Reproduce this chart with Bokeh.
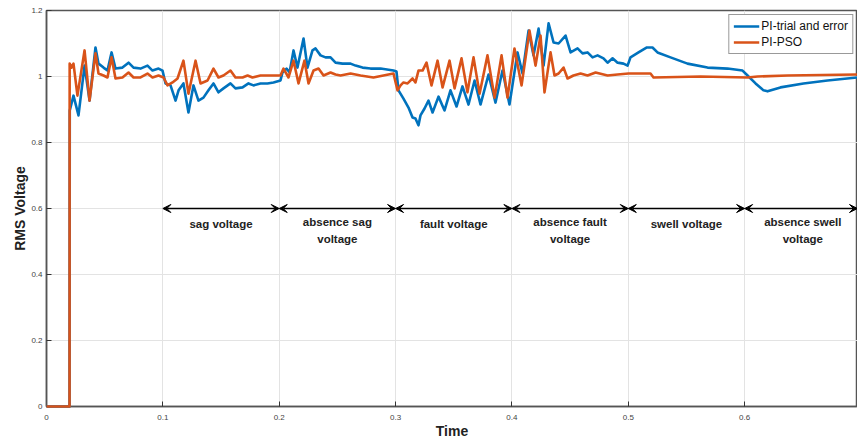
from bokeh.plotting import figure
from bokeh.models import (ColumnDataSource, Range1d, FixedTicker, Arrow, VeeHead,
                          Legend, LegendItem)
from bokeh.core.properties import value
from bokeh.embed import file_html
from bokeh.resources import INLINE

# ---------------- data ----------------
t_pi_trial = [0.0, 0.0198, 0.0200, 0.0232, 0.0275, 0.0327, 0.0370, 0.0421, 0.0447, 0.0490,
              0.0524, 0.0559, 0.0593, 0.0653, 0.0705, 0.0748, 0.0808, 0.0868, 0.0911, 0.0963,
              0.0997, 0.1023, 0.1066, 0.1109, 0.1135, 0.1177, 0.1220, 0.1263, 0.1306, 0.1349,
              0.1392, 0.1435, 0.1478, 0.1521, 0.1581, 0.1624, 0.1685, 0.1736, 0.1779, 0.1839,
              0.1899, 0.1951, 0.2011, 0.2028, 0.2063, 0.2089, 0.2123, 0.2157, 0.2209, 0.2243,
              0.2286, 0.2312, 0.2355, 0.2398, 0.2441, 0.2484, 0.2544, 0.2613, 0.2656, 0.2716,
              0.2785, 0.2871, 0.2982, 0.3008, 0.3025, 0.3068, 0.3111, 0.3146, 0.3171, 0.3197,
              0.3214, 0.3249, 0.3283, 0.3318, 0.3369, 0.3421, 0.3472, 0.3524, 0.3575, 0.3627,
              0.3679, 0.3730, 0.3799, 0.3859, 0.3919, 0.3979, 0.4048, 0.4091, 0.4143, 0.4186,
              0.4229, 0.4272, 0.4315, 0.4358, 0.4401, 0.4461, 0.4504, 0.4564, 0.4607, 0.4650,
              0.4693, 0.4736, 0.4787, 0.4822, 0.4865, 0.4908, 0.4959, 0.4994, 0.5019, 0.5088,
              0.5160, 0.5208, 0.5251, 0.5363, 0.5509, 0.5681, 0.5853, 0.5982, 0.6025, 0.6094,
              0.6162, 0.6197, 0.6308, 0.6506, 0.6712, 0.6970]
v_pi_trial = [0.0, 0.0, 0.897, 0.942, 0.882, 1.033, 0.927, 1.088, 1.039, 1.027,
              1.018, 1.073, 1.024, 1.027, 1.042, 1.027, 1.024, 1.033, 1.018, 1.024,
              1.018, 0.979, 0.973, 0.927, 0.958, 0.979, 0.891, 0.973, 0.927, 0.936,
              0.958, 0.979, 0.952, 0.964, 0.979, 0.964, 0.967, 0.979, 0.973, 0.979,
              0.979, 0.982, 0.988, 1.012, 1.024, 1.012, 1.079, 1.027, 1.115, 1.027,
              1.079, 1.085, 1.064, 1.058, 1.058, 1.042, 1.039, 1.039, 1.033, 1.027,
              1.024, 1.024, 1.018, 1.015, 0.958, 0.933, 0.906, 0.876, 0.873, 0.852,
              0.882, 0.903, 0.927, 0.891, 0.939, 0.897, 0.958, 0.909, 0.970, 0.915,
              0.988, 0.915, 1.006, 0.921, 1.018, 0.915, 1.073, 1.009, 1.139, 1.064,
              1.145, 1.033, 1.161, 1.103, 1.100, 1.124, 1.073, 1.085, 1.070, 1.073,
              1.058, 1.064, 1.055, 1.042, 1.055, 1.042, 1.039, 1.033, 1.058, 1.073,
              1.088, 1.088, 1.073, 1.058, 1.039, 1.027, 1.024, 1.018, 1.003, 0.979,
              0.958, 0.955, 0.967, 0.979, 0.988, 0.997]

t_pi_pso = [0.0, 0.0198, 0.0199, 0.0215, 0.0232, 0.0266, 0.0327, 0.0370, 0.0421, 0.0447,
            0.0490, 0.0524, 0.0559, 0.0593, 0.0653, 0.0705, 0.0748, 0.0808, 0.0868, 0.0911,
            0.0963, 0.1006, 0.1040, 0.1083, 0.1126, 0.1177, 0.1220, 0.1281, 0.1324, 0.1384,
            0.1435, 0.1478, 0.1521, 0.1581, 0.1624, 0.1685, 0.1728, 0.1770, 0.1839, 0.1925,
            0.2011, 0.2037, 0.2080, 0.2123, 0.2166, 0.2217, 0.2252, 0.2295, 0.2338, 0.2381,
            0.2441, 0.2484, 0.2527, 0.2613, 0.2699, 0.2810, 0.2982, 0.3017, 0.3043, 0.3068,
            0.3103, 0.3146, 0.3171, 0.3197, 0.3232, 0.3266, 0.3309, 0.3361, 0.3404, 0.3464,
            0.3507, 0.3567, 0.3618, 0.3670, 0.3722, 0.3790, 0.3851, 0.3911, 0.3962, 0.4022,
            0.4083, 0.4151, 0.4203, 0.4246, 0.4280, 0.4332, 0.4366, 0.4401, 0.4444, 0.4478,
            0.4529, 0.4590, 0.4650, 0.4719, 0.4822, 0.4908, 0.5002, 0.5088, 0.5191, 0.5217,
            0.5621, 0.6025, 0.6111, 0.6369, 0.6970]
v_pi_pso = [0.0, 0.0, 1.039, 1.027, 1.039, 0.942, 1.079, 0.927, 1.070, 1.009,
            1.003, 0.997, 1.058, 0.994, 0.997, 1.012, 0.997, 0.997, 1.009, 0.997,
            1.003, 0.997, 0.973, 0.982, 0.994, 1.048, 0.948, 1.048, 0.979, 0.988,
            1.024, 0.997, 1.003, 1.018, 0.997, 0.997, 1.003, 0.997, 1.003, 1.003,
            1.003, 1.024, 0.997, 1.048, 0.979, 1.048, 0.979, 1.018, 1.024, 1.003,
            1.012, 1.006, 1.003, 1.009, 1.003, 0.997, 1.009, 0.958, 0.973, 0.982,
            0.979, 0.994, 0.982, 1.018, 1.018, 1.042, 0.973, 1.048, 0.967, 1.048,
            0.964, 1.055, 0.952, 1.058, 0.948, 1.064, 0.936, 1.064, 0.936, 1.085,
            0.973, 1.139, 1.033, 1.124, 0.952, 1.073, 1.003, 1.009, 1.027, 0.994,
            1.003, 1.009, 1.003, 1.012, 1.003, 1.006, 1.009, 1.009, 1.009, 0.997,
            1.000, 0.997, 1.000, 1.003, 1.006]

series_names = ["PI-trial and error", "PI-PSO"]
series_colors = ["#0072BD", "#D95319"]

x_ticks = [0, 0.1, 0.2, 0.3, 0.4, 0.5, 0.6, 0.7]
x_tick_labels = ["0", "0.1", "0.2", "0.3", "0.4", "0.5", "0.6", "0.7"]
y_ticks = [0, 0.2, 0.4, 0.6, 0.8, 1, 1.2]
y_tick_labels = ["0", "0.2", "0.4", "0.6", "0.8", "1", "1.2"]

segment_bounds = [0.1, 0.2, 0.3, 0.4, 0.5, 0.6, 0.697]
segment_labels = [["sag voltage"], ["absence sag", "voltage"], ["fault voltage"],
                  ["absence fault", "voltage"], ["swell voltage"], ["absence swell", "voltage"]]
arrow_level = 0.6

# ---------------- figure ----------------
FONT = "Liberation Sans"
p = figure(width=857, height=441, output_backend="svg", toolbar_location=None,
           x_range=Range1d(0, 0.697), y_range=Range1d(0, 1.2),
           min_border_left=46, min_border_right=0, min_border_top=10, min_border_bottom=35)
p.background_fill_color = "white"
p.border_fill_color = "white"
p.outline_line_color = "#555555"
p.outline_line_width = 1.5

for ax in (p.xaxis[0], p.yaxis[0]):
    ax.axis_line_color = "#555555"
    ax.axis_line_width = 1.5
    ax.major_tick_in = 5
    ax.major_tick_out = 0
    ax.minor_tick_in = 0
    ax.minor_tick_out = 0
    ax.major_tick_line_color = "#333333"
    ax.major_label_text_font = FONT
    ax.major_label_text_font_size = "8px"
    ax.major_label_text_color = "#444444"
    ax.axis_label_text_font = FONT
    ax.axis_label_text_font_size = "14px"
    ax.axis_label_text_font_style = "bold"
    ax.axis_label_text_color = "#222222"

p.xaxis.ticker = FixedTicker(ticks=x_ticks)
p.xaxis.major_label_overrides = dict(zip(x_ticks, x_tick_labels))
p.yaxis.ticker = FixedTicker(ticks=y_ticks)
p.yaxis.major_label_overrides = dict(zip(y_ticks, y_tick_labels))
p.xaxis.axis_label = "Time"
p.yaxis.axis_label = "RMS Voltage"
p.xaxis.major_label_standoff = 8
p.yaxis.major_label_standoff = 4
p.xaxis.axis_label_standoff = 0
p.yaxis.axis_label_standoff = 0

p.xgrid.grid_line_color = "#e3e3e3"
p.ygrid.grid_line_color = "#e3e3e3"
p.xgrid.ticker = FixedTicker(ticks=x_ticks)
p.ygrid.ticker = FixedTicker(ticks=y_ticks)

src_a = ColumnDataSource(dict(t=t_pi_trial, v=v_pi_trial))
src_b = ColumnDataSource(dict(t=t_pi_pso, v=v_pi_pso))
ra = p.line("t", "v", source=src_a, line_color=series_colors[0], line_width=2.6,
            line_join="round", level="overlay")
rb = p.line("t", "v", source=src_b, line_color=series_colors[1], line_width=2.6,
            line_join="round", level="overlay")

# arrows + labels
for i in range(len(segment_bounds) - 1):
    x0, x1 = segment_bounds[i], segment_bounds[i + 1]
    p.add_layout(Arrow(x_start=x0, y_start=arrow_level, x_end=x1, y_end=arrow_level,
                       line_color="black", line_width=1.5,
                       start=VeeHead(size=8, fill_color="black", line_color="black", line_width=1),
                       end=VeeHead(size=8, fill_color="black", line_color="black", line_width=1)))
    lines = segment_labels[i]
    xm = (segment_bounds[i] + min(segment_bounds[i] + 0.1, segment_bounds[i + 1] + 0.003)) / 2
    if len(lines) == 1:
        ys = [0.552]
    else:
        ys = [0.558, 0.508]
    p.text(x=[xm] * len(lines), y=ys, text=lines, text_font=value(FONT),
           text_font_size="11.5px", text_font_style="bold", text_color="#222222",
           text_align="center", text_baseline="middle")

legend = Legend(items=[LegendItem(label=series_names[0], renderers=[ra]),
                       LegendItem(label=series_names[1], renderers=[rb])],
                location="top_right")
legend.label_text_font = FONT
legend.label_text_font_size = "12px"
legend.label_text_color = "#111111"
legend.label_standoff = 2
legend.glyph_width = 26
legend.glyph_height = 14
legend.label_height = 14
legend.spacing = 2
legend.padding = 4
legend.margin = 4
legend.border_line_color = "#333333"
legend.border_line_width = 1
legend.background_fill_color = "white"
legend.background_fill_alpha = 1
p.add_layout(legend)

open("out.html", "w").write(file_html(p, INLINE))
